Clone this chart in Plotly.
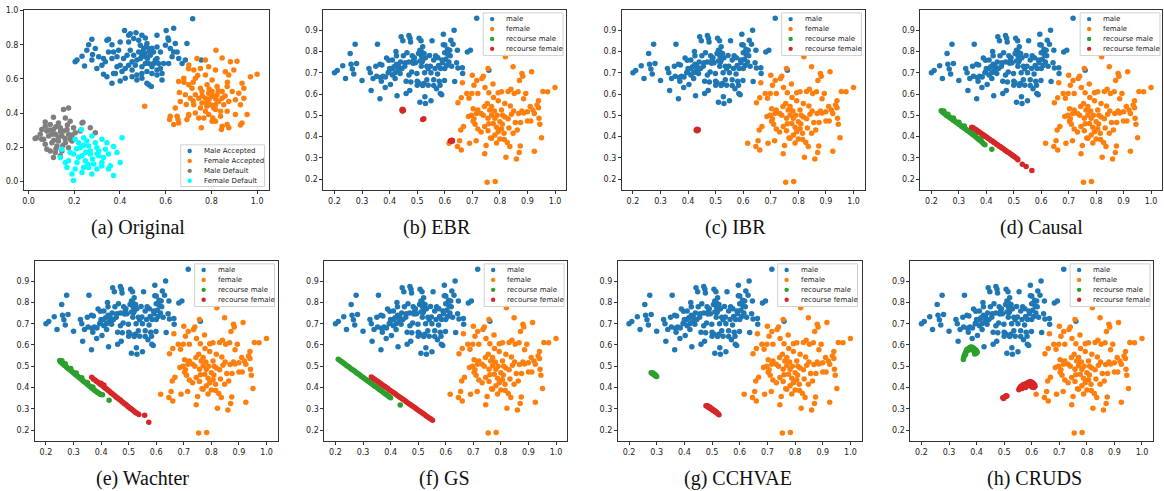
import plotly.graph_objects as go

# ---------------- DATA ----------------
# Panel (a): training data
train_male_accepted = [
    (0.718,0.952),(0.635,0.897),(0.602,0.884),(0.562,0.855),(0.61,0.84),(0.42,0.884),(0.445,0.865),
    (0.47,0.87),(0.496,0.855),(0.511,0.84),(0.482,0.826),(0.46,0.836),(0.438,0.816),(0.401,0.816),
    (0.365,0.80),(0.343,0.826),(0.35,0.832),(0.277,0.832),(0.263,0.80),(0.255,0.768),(0.28,0.743),
    (0.234,0.733),(0.212,0.71),(0.204,0.70),(0.245,0.675),(0.277,0.71),(0.299,0.661),(0.328,0.72),
    (0.336,0.70),(0.328,0.627),(0.343,0.613),(0.365,0.574),(0.372,0.632),(0.387,0.671),(0.401,0.588),
    (0.423,0.603),(0.401,0.68),(0.416,0.72),(0.431,0.739),(0.445,0.768),(0.46,0.739),(0.474,0.71),
    (0.453,0.652),(0.474,0.623),(0.496,0.632),(0.511,0.69),(0.526,0.778),(0.518,0.807),(0.533,0.739),
    (0.547,0.758),(0.555,0.71),(0.54,0.671),(0.562,0.652),(0.584,0.632),(0.584,0.594),(0.577,0.661),
    (0.591,0.69),(0.613,0.69),(0.628,0.729),(0.65,0.758),(0.657,0.72),(0.672,0.69),(0.686,0.71),
    (0.693,0.807),(0.642,0.807),(0.62,0.778),(0.599,0.797),(0.577,0.758),(0.562,0.787),(0.526,0.565),
    (0.537,0.555),(0.518,0.574),(0.365,0.72),(0.387,0.729),(0.394,0.768),(0.35,0.758),(0.372,0.758),
    (0.482,0.758),(0.496,0.739),(0.504,0.778),(0.489,0.797),(0.511,0.729),(0.526,0.69),(0.547,0.69),
    (0.562,0.72),(0.569,0.69),(0.438,0.68),(0.423,0.661),(0.409,0.643),(0.453,0.70),(0.467,0.68),
    (0.496,0.671),(0.518,0.643),(0.54,0.632),(0.562,0.623),(0.38,0.632),(0.321,0.68),(0.307,0.729),
    (0.292,0.778),(0.438,0.855),(0.613,0.826),(0.635,0.758),(0.496,0.603),(0.474,0.594),(0.453,0.613),
    (0.50,0.76),(0.51,0.75),(0.52,0.72),(0.53,0.76),(0.49,0.72),(0.54,0.78),(0.515,0.79),(0.756,0.71),
]
train_female_accepted = [
    (0.82,0.768),(0.737,0.72),(0.774,0.71),(0.847,0.723),(0.883,0.70),(0.912,0.704),(0.701,0.681),
    (0.723,0.652),(0.752,0.661),(0.788,0.671),(0.818,0.652),(0.861,0.642),(0.898,0.652),(0.876,0.623),
    (0.971,0.613),(1.0,0.627),(0.934,0.574),(0.942,0.545),(0.92,0.516),(0.942,0.487),(0.927,0.449),
    (0.956,0.391),(0.657,0.584),(0.679,0.603),(0.701,0.565),(0.686,0.507),(0.664,0.468),(0.642,0.429),
    (0.62,0.381),(0.65,0.381),(0.657,0.342),(0.635,0.333),(0.701,0.391),(0.693,0.362),(0.723,0.449),
    (0.745,0.487),(0.759,0.526),(0.781,0.565),(0.803,0.594),(0.825,0.555),(0.847,0.526),(0.869,0.555),
    (0.891,0.526),(0.905,0.478),(0.876,0.468),(0.854,0.449),(0.832,0.468),(0.81,0.497),(0.788,0.516),
    (0.774,0.487),(0.796,0.449),(0.818,0.42),(0.774,0.41),(0.752,0.429),(0.73,0.40),(0.745,0.371),
    (0.767,0.371),(0.788,0.391),(0.803,0.352),(0.84,0.381),(0.869,0.41),(0.905,0.391),(0.869,0.333),
    (0.847,0.323),(0.934,0.342),(0.73,0.507),(0.752,0.545),(0.73,0.603),(0.774,0.623),(0.803,0.526),
    (0.825,0.507),(0.847,0.487),(0.818,0.449),(0.781,0.459),(0.759,0.459),(0.715,0.545),(0.708,0.487),
    (0.508,0.439),(0.818,0.352),(0.844,0.304),(0.876,0.313),(0.927,0.329),(0.756,0.313),(0.806,0.371),
    (0.70,0.385),(0.654,0.362),(0.617,0.362),(0.79,0.48),(0.80,0.50),(0.82,0.48),(0.78,0.44),
    (0.81,0.43),(0.76,0.50),(0.83,0.53),(0.86,0.50),(0.79,0.54),(0.84,0.41),(0.72,0.47),
    (0.70,0.66),(0.68,0.58),(0.74,0.62),(0.72,0.58),(0.66,0.52),(0.69,0.45),(0.87,0.58),
]
train_male_default = [
    (0.175,0.429),(0.153,0.42),(0.109,0.375),(0.073,0.348),(0.095,0.333),(0.131,0.342),(0.161,0.371),
    (0.182,0.352),(0.234,0.342),(0.058,0.304),(0.080,0.294),(0.109,0.304),(0.139,0.313),(0.168,0.304),
    (0.197,0.313),(0.036,0.255),(0.058,0.246),(0.088,0.265),(0.117,0.275),(0.146,0.265),(0.175,0.275),
    (0.204,0.284),(0.226,0.294),(0.073,0.217),(0.102,0.226),(0.131,0.236),(0.161,0.226),(0.19,0.236),
    (0.095,0.178),(0.117,0.168),(0.146,0.178),(0.109,0.139),(0.139,0.149),(0.175,0.197),(0.08,0.188),
    (0.051,0.275),(0.124,0.207),(0.153,0.294),(0.102,0.275),(0.182,0.246),(0.073,0.323),(0.066,0.246),
    (0.238,0.346),(0.27,0.313),(0.292,0.284),(0.029,0.25),(0.12,0.32),(0.14,0.29),(0.16,0.25),
    (0.13,0.26),(0.11,0.24),(0.15,0.21),(0.19,0.27),(0.12,0.19),(0.09,0.30),(0.17,0.33),
]
train_female_default = [
    (0.231,0.304),(0.146,0.188),(0.139,0.139),(0.204,0.246),(0.241,0.255),(0.277,0.265),(0.321,0.246),
    (0.343,0.226),(0.409,0.255),(0.226,0.197),(0.263,0.207),(0.299,0.197),(0.336,0.188),(0.197,0.159),
    (0.234,0.149),(0.270,0.159),(0.307,0.149),(0.35,0.159),(0.175,0.12),(0.212,0.110),(0.248,0.12),
    (0.285,0.101),(0.321,0.110),(0.168,0.081),(0.204,0.072),(0.234,0.052),(0.277,0.043),(0.19,0.043),
    (0.197,0.004),(0.372,0.033),(0.401,0.110),(0.358,0.091),(0.255,0.236),(0.292,0.226),(0.219,0.226),
    (0.328,0.139),(0.387,0.168),(0.27,0.178),(0.307,0.178),(0.263,0.081),(0.299,0.072),(0.161,0.110),
    (0.182,0.168),(0.241,0.081),(0.35,0.072),(0.372,0.203),(0.25,0.17),(0.28,0.13),(0.22,0.14),
    (0.26,0.10),(0.30,0.16),(0.24,0.21),(0.21,0.19),(0.32,0.09),
]

# Panels (b)-(h): test data
test_male = [
    (0.20,0.70),(0.21,0.71),(0.23,0.733),(0.24,0.673),(0.257,0.79),(0.26,0.74),(0.265,0.718),
    (0.275,0.834),(0.28,0.743),(0.27,0.694),(0.30,0.664),(0.356,0.834),(0.325,0.72),(0.33,0.70),
    (0.34,0.673),(0.333,0.617),(0.365,0.578),(0.353,0.684),(0.367,0.678),(0.376,0.684),(0.372,0.736),
    (0.384,0.631),(0.389,0.769),(0.397,0.759),(0.398,0.705),(0.403,0.645),(0.41,0.72),(0.416,0.728),
    (0.42,0.673),(0.423,0.80),(0.425,0.78),(0.427,0.592),(0.432,0.731),(0.438,0.697),(0.442,0.869),
    (0.448,0.85),(0.457,0.747),(0.46,0.603),(0.463,0.794),(0.47,0.875),(0.473,0.617),(0.474,0.862),
    (0.476,0.844),(0.477,0.657),(0.48,0.703),(0.482,0.78),(0.487,0.759),(0.494,0.747),(0.499,0.697),
    (0.50,0.641),(0.505,0.653),(0.507,0.862),(0.51,0.806),(0.51,0.561),(0.514,0.85),(0.516,0.778),
    (0.518,0.752),(0.52,0.822),(0.524,0.65),(0.527,0.70),(0.528,0.587),(0.53,0.556),(0.535,0.667),
    (0.54,0.719),(0.54,0.641),(0.545,0.781),(0.548,0.731),(0.55,0.568),(0.554,0.85),(0.56,0.667),
    (0.567,0.78),(0.57,0.625),(0.574,0.694),(0.578,0.734),(0.583,0.641),(0.584,0.603),(0.589,0.597),
    (0.592,0.747),(0.595,0.831),(0.595,0.881),(0.599,0.663),(0.60,0.794),(0.604,0.763),(0.607,0.734),
    (0.612,0.784),(0.618,0.806),(0.622,0.853),(0.63,0.834),(0.634,0.90),(0.636,0.659),(0.643,0.747),
    (0.648,0.722),(0.664,0.724),(0.665,0.697),(0.646,0.806),(0.682,0.797),(0.693,0.806),(0.716,0.956),
    (0.76,0.712),(0.505,0.79),(0.515,0.80),(0.525,0.79),(0.53,0.77),(0.52,0.76),(0.51,0.755),
    (0.49,0.77),(0.485,0.745),(0.47,0.75),(0.455,0.73),(0.445,0.72),(0.43,0.71),(0.42,0.70),
    (0.41,0.69),(0.395,0.70),(0.40,0.72),(0.385,0.68),(0.37,0.66),(0.35,0.73),(0.365,0.74),
    (0.56,0.76),(0.575,0.77),(0.59,0.76),(0.585,0.72),(0.60,0.72),(0.615,0.75),(0.625,0.73),
    (0.55,0.70),(0.565,0.72),(0.535,0.73),(0.515,0.73),(0.47,0.69),(0.46,0.66),(0.50,0.66),
    (0.52,0.64),(0.56,0.64),(0.58,0.66),(0.62,0.78),(0.61,0.81),(0.60,0.83),(0.45,0.78),
    (0.44,0.75),(0.425,0.74),(0.41,0.76),
]
test_female = [
    (0.82,0.775),(0.757,0.72),(0.848,0.728),(0.915,0.705),(0.883,0.684),(0.871,0.663),(0.88,0.697),
    (0.70,0.688),(0.716,0.663),(0.706,0.641),(0.735,0.673),(0.74,0.684),(0.72,0.603),(0.698,0.603),
    (0.664,0.653),(0.68,0.603),(0.66,0.583),(0.648,0.559),(0.688,0.58),(0.746,0.631),(0.775,0.647),
    (0.76,0.606),(0.794,0.606),(0.806,0.611),(0.83,0.612),(0.84,0.622),(0.852,0.603),(0.866,0.611),
    (0.894,0.603),(0.886,0.578),(0.956,0.612),(0.973,0.611),(1.00,0.631),(0.94,0.569),(0.935,0.548),
    (0.94,0.536),(0.92,0.525),(0.925,0.509),(0.942,0.486),(0.945,0.458),(0.951,0.395),(0.925,0.331),
    (0.90,0.473),(0.912,0.473),(0.88,0.52),(0.886,0.511),(0.868,0.508),(0.85,0.52),(0.838,0.544),
    (0.856,0.466),(0.875,0.466),(0.863,0.431),(0.848,0.416),(0.833,0.44),(0.815,0.416),(0.827,0.372),
    (0.836,0.353),(0.822,0.303),(0.874,0.356),(0.87,0.325),(0.86,0.295),(0.754,0.186),(0.783,0.189),
    (0.745,0.319),(0.75,0.358),(0.766,0.394),(0.714,0.381),(0.69,0.369),(0.654,0.381),(0.646,0.353),
    (0.66,0.337),(0.616,0.369),(0.658,0.431),(0.668,0.448),(0.697,0.50),(0.703,0.472),(0.71,0.458),
    (0.72,0.436),(0.732,0.422),(0.72,0.525),(0.732,0.509),(0.744,0.541),(0.754,0.556),(0.763,0.525),
    (0.77,0.502),(0.782,0.486),(0.776,0.462),(0.788,0.444),(0.794,0.423),(0.782,0.408),(0.77,0.392),
    (0.80,0.389),(0.809,0.459),(0.818,0.492),(0.806,0.525),(0.818,0.556),(0.794,0.569),(0.777,0.584),
    (0.83,0.484),(0.842,0.505),(0.703,0.531),(0.715,0.509),(0.706,0.484),(0.686,0.494),(0.757,0.486),
    (0.745,0.447),(0.757,0.428),(0.806,0.437),(0.77,0.541),(0.90,0.517),(0.91,0.541),(0.816,0.386),
    (0.788,0.37),(0.79,0.50),(0.80,0.47),(0.78,0.52),(0.81,0.50),(0.76,0.46),(0.74,0.50),
]

# recourse points per method
ebr_rec_male = [(0.448,0.522),(0.446,0.520)]
ebr_rec_female = [(0.445,0.525),(0.448,0.522),(0.447,0.528),(0.450,0.524),(0.520,0.480),(0.524,0.484),
                  (0.623,0.380),(0.627,0.378),(0.625,0.383),(0.620,0.379),(0.628,0.382)]
ibr_rec_male = [(0.433,0.428)]
ibr_rec_female = [(0.430,0.432),(0.435,0.430),(0.433,0.434),(0.437,0.432),(0.430,0.429)]
causal_rec_male = [
    (0.236,0.522),(0.24,0.516),(0.243,0.515),(0.247,0.508),(0.25,0.507),(0.254,0.500),(0.258,0.499),
    (0.262,0.493),(0.266,0.492),(0.27,0.486),(0.275,0.483),(0.28,0.476),(0.285,0.474),(0.29,0.467),
    (0.295,0.464),(0.30,0.458),(0.305,0.455),(0.31,0.448),(0.315,0.445),(0.32,0.439),(0.325,0.436),
    (0.33,0.429),(0.335,0.426),(0.34,0.420),(0.345,0.416),(0.35,0.410),(0.355,0.406),(0.36,0.400),
    (0.365,0.395),(0.37,0.390),(0.375,0.384),(0.38,0.379),(0.385,0.373),(0.39,0.367),(0.395,0.362),
    (0.42,0.341),(0.245,0.520),(0.26,0.505),(0.28,0.487),(0.30,0.468),(0.32,0.450),(0.34,0.430),
    (0.36,0.410),(0.38,0.390),
]
causal_rec_female = [
    (0.347,0.444),(0.352,0.442),(0.357,0.436),(0.362,0.433),(0.367,0.427),(0.372,0.424),(0.377,0.418),
    (0.382,0.415),(0.387,0.409),(0.392,0.406),(0.397,0.400),(0.402,0.397),(0.407,0.391),(0.412,0.388),
    (0.417,0.382),(0.422,0.379),(0.427,0.373),(0.432,0.370),(0.437,0.364),(0.442,0.361),(0.447,0.355),
    (0.452,0.352),(0.457,0.346),(0.462,0.343),(0.467,0.337),(0.472,0.334),(0.477,0.328),(0.482,0.325),
    (0.487,0.319),(0.492,0.316),(0.497,0.310),(0.502,0.307),(0.507,0.301),(0.512,0.297),(0.515,0.291),
    (0.531,0.270),(0.545,0.260),(0.566,0.241),
]
wachter_rec_male = [
    (0.25,0.527),(0.253,0.520),(0.257,0.518),(0.26,0.512),(0.264,0.509),(0.268,0.503),(0.272,0.500),
    (0.276,0.494),(0.28,0.490),(0.285,0.485),(0.29,0.480),(0.295,0.474),(0.30,0.469),(0.305,0.463),
    (0.31,0.458),(0.315,0.453),(0.32,0.447),(0.325,0.442),(0.33,0.437),(0.335,0.431),(0.34,0.426),
    (0.345,0.421),(0.35,0.415),(0.355,0.410),(0.36,0.405),(0.365,0.399),(0.37,0.394),(0.375,0.389),
    (0.38,0.384),(0.385,0.379),(0.39,0.374),(0.395,0.370),(0.40,0.367),(0.405,0.366),(0.429,0.340),
    (0.258,0.526),(0.27,0.512),(0.29,0.490),(0.31,0.468),(0.33,0.446),(0.35,0.424),(0.37,0.402),
]
wachter_rec_female = [
    (0.366,0.448),(0.372,0.440),(0.378,0.436),(0.384,0.428),(0.39,0.424),(0.396,0.417),(0.40,0.414),
    (0.405,0.408),(0.41,0.404),(0.415,0.397),(0.42,0.393),(0.425,0.387),(0.43,0.383),(0.435,0.376),
    (0.44,0.372),(0.445,0.366),(0.45,0.362),(0.455,0.355),(0.46,0.351),(0.465,0.345),(0.47,0.341),
    (0.475,0.334),(0.48,0.330),(0.485,0.324),(0.49,0.320),(0.495,0.313),(0.50,0.309),(0.505,0.303),
    (0.51,0.299),(0.515,0.293),(0.52,0.289),(0.525,0.283),(0.53,0.279),(0.537,0.273),(0.558,0.270),
    (0.573,0.237),(0.40,0.420),(0.41,0.412),
]
gs_rec_male = [
    (0.21,0.533),(0.215,0.528),(0.22,0.523),(0.225,0.519),(0.23,0.514),(0.235,0.509),(0.24,0.504),
    (0.245,0.500),(0.25,0.495),(0.255,0.490),(0.26,0.485),(0.265,0.481),(0.27,0.476),(0.275,0.471),
    (0.28,0.466),(0.285,0.462),(0.29,0.457),(0.295,0.452),(0.30,0.447),(0.305,0.443),(0.31,0.438),
    (0.315,0.433),(0.32,0.428),(0.325,0.424),(0.33,0.419),(0.335,0.414),(0.34,0.409),(0.345,0.405),
    (0.35,0.400),(0.355,0.395),(0.36,0.390),(0.365,0.386),(0.37,0.381),(0.375,0.376),(0.38,0.371),
    (0.385,0.367),(0.39,0.362),(0.395,0.357),(0.40,0.352),(0.435,0.318),
]
gs_rec_female = [
    (0.33,0.450),(0.336,0.444),(0.342,0.439),(0.348,0.433),(0.354,0.428),(0.36,0.422),(0.366,0.417),
    (0.372,0.411),(0.378,0.406),(0.384,0.400),(0.39,0.395),(0.396,0.389),(0.402,0.384),(0.408,0.378),
    (0.414,0.373),(0.42,0.367),(0.426,0.362),(0.432,0.356),(0.438,0.351),(0.444,0.345),(0.45,0.340),
    (0.456,0.334),(0.462,0.329),(0.468,0.323),(0.474,0.318),(0.48,0.312),(0.486,0.307),(0.492,0.301),
    (0.498,0.296),(0.504,0.290),(0.51,0.285),(0.516,0.279),(0.522,0.274),(0.528,0.268),(0.534,0.263),
    (0.54,0.257),(0.546,0.252),(0.552,0.246),
]
cchvae_rec_male = [(0.282,0.468),(0.285,0.466),(0.288,0.463),(0.29,0.461),(0.293,0.458),(0.296,0.456),
                   (0.298,0.453),(0.30,0.452),(0.287,0.468),(0.295,0.46),(0.28,0.47)]
cchvae_rec_female = [(0.478,0.315),(0.482,0.312),(0.486,0.308),(0.49,0.305),(0.494,0.301),(0.498,0.298),
                     (0.502,0.294),(0.506,0.291),(0.51,0.287),(0.514,0.284),(0.518,0.28),(0.522,0.276),
                     (0.525,0.272),(0.484,0.315),(0.492,0.309),(0.50,0.30),(0.508,0.293),(0.516,0.285)]
cruds_rec_male = [(0.352,0.532),(0.353,0.54),(0.355,0.548),(0.357,0.555),(0.36,0.563),(0.362,0.57),
                  (0.365,0.576),(0.368,0.581),(0.372,0.585),(0.376,0.588),(0.38,0.59),(0.384,0.589),
                  (0.388,0.586),(0.392,0.582),(0.396,0.577),(0.40,0.572),(0.402,0.566),(0.398,0.56),
                  (0.393,0.558),(0.386,0.575),(0.37,0.575),(0.36,0.555)]
cruds_rec_female = [(0.495,0.352),(0.50,0.355),(0.505,0.358),(0.51,0.36),(0.498,0.348),(0.507,0.362),
                    (0.553,0.39),(0.556,0.398),(0.56,0.405),(0.565,0.41),(0.57,0.414),(0.575,0.416),
                    (0.58,0.418),(0.585,0.422),(0.59,0.426),(0.595,0.428),(0.60,0.425),(0.605,0.42),
                    (0.61,0.414),(0.612,0.406),(0.608,0.40),(0.60,0.402),(0.59,0.41),(0.578,0.40),
                    (0.565,0.395),(0.57,0.405)]

captions = ["(a) Original", "(b) EBR", "(c) IBR", "(d) Causal",
            "(e) Wachter", "(f) GS", "(g) CCHVAE", "(h) CRUDS"]
legend_a = ["Male Accepted", "Female Accepted", "Male Default", "Female Default"]
legend_rec = ["male", "female", "recourse male", "recourse female"]
x_ticks_a = [0.0, 0.2, 0.4, 0.6, 0.8, 1.0]
y_ticks_a = [0.0, 0.2, 0.4, 0.6, 0.8, 1.0]
x_ticks = [0.2, 0.3, 0.4, 0.5, 0.6, 0.7, 0.8, 0.9, 1.0]
y_ticks = [0.2, 0.3, 0.4, 0.5, 0.6, 0.7, 0.8, 0.9]

recourse = [
    (ebr_rec_male, ebr_rec_female), (ibr_rec_male, ibr_rec_female),
    (causal_rec_male, causal_rec_female), (wachter_rec_male, wachter_rec_female),
    (gs_rec_male, gs_rec_female), (cchvae_rec_male, cchvae_rec_female),
    (cruds_rec_male, cruds_rec_female),
]

# ---------------- LAYOUT ----------------
W, H = 1164, 491
BLUE, ORANGE, GREEN, RED = "#1f77b4", "#ff7f0e", "#2ca02c", "#d62728"
GREY, CYAN = "#7f7f7f", "#00ffff"

# plot-area boxes in pixels: (left, right, top, bottom)
boxes = [(22, 267, 6, 188), (322, 565, 6, 188), (621, 864, 6, 188), (920, 1162, 6, 188),
         (33, 276, 259, 441), (323, 566, 259, 441), (617, 861, 259, 441), (910, 1153, 259, 441)]
caption_pos = [(136, 225), (436, 225), (735, 225), (1041, 225),
               (141, 478), (443, 478), (737, 478), (1034, 478)]
# legend boxes in pixels: (left, top, width, height)
legend_box = [(179, 142, 84, 42), (482, 9, 80, 43), (781, 9, 80, 43), (1080, 9, 80, 43),
              (193, 262, 80, 43), (483, 262, 80, 43), (777, 262, 80, 43), (1070, 262, 80, 43)]


def px(x):
    return x / W


def py(y):
    return 1 - y / H


def xs(pts):
    return [p[0] for p in pts]


def ys(pts):
    return [p[1] for p in pts]


fig = go.Figure()
layout = dict(width=W, height=H, margin=dict(l=0, r=0, t=0, b=0),
              paper_bgcolor="white", plot_bgcolor="white", showlegend=False,
              font=dict(family="DejaVu Sans", color="#222"))
shapes, annotations = [], []

MS = 5.5
for i in range(8):
    ax = "" if i == 0 else str(i + 1)
    if i == 0:
        series = [(train_male_accepted, BLUE), (train_female_accepted, ORANGE),
                  (train_male_default, GREY), (train_female_default, CYAN)]
        names = legend_a
    else:
        rm, rf = recourse[i - 1]
        series = [(test_male, BLUE), (test_female, ORANGE), (rm, GREEN), (rf, RED)]
        names = legend_rec
    for (pts, col), nm in zip(series, names):
        fig.add_trace(go.Scatter(
            x=xs(pts), y=ys(pts), mode="markers", name=nm,
            marker=dict(color=col, size=MS, line=dict(width=0)),
            xaxis="x" + ax, yaxis="y" + ax, hoverinfo="skip"))

    l, r, t, b = boxes[i]
    if i == 0:
        xr, yr, xt, yt = [-0.02, 1.05], [-0.054, 1.004], x_ticks_a, y_ticks_a
    else:
        xr, yr, xt, yt = [0.16, 1.04], [0.147, 0.995], x_ticks, y_ticks
    common = dict(showgrid=False, zeroline=False, showline=True, mirror=True,
                  linecolor="#333", linewidth=1, ticks="outside", ticklen=3,
                  tickwidth=0.8, tickcolor="#333", tickfont=dict(size=8, color="#222"),
                  tickformat=".1f", fixedrange=True)
    layout["xaxis" + ax] = dict(common, domain=[px(l), px(r)], range=xr,
                                tickvals=xt, anchor="y" + ax)
    layout["yaxis" + ax] = dict(common, domain=[py(b), py(t)], range=yr,
                                tickvals=yt, anchor="x" + ax)

    # legend drawn by hand (matplotlib-like compact box)
    lx, ly, lw, lh = legend_box[i]
    shapes.append(dict(type="rect", xref="paper", yref="paper",
                       x0=px(lx), x1=px(lx + lw), y0=py(ly + lh), y1=py(ly),
                       fillcolor="rgba(255,255,255,0.8)",
                       line=dict(color="#d0d0d0", width=1), layer="above"))
    for k, ((_, col), nm) in enumerate(zip(series, names)):
        cy = ly + 6.2 + 10.0 * k
        cx = lx + 9
        rr = 2.2
        shapes.append(dict(type="circle", xref="paper", yref="paper",
                           x0=px(cx - rr), x1=px(cx + rr), y0=py(cy + rr), y1=py(cy - rr),
                           fillcolor=col, line=dict(width=0), layer="above"))
        annotations.append(dict(text=nm, x=px(lx + 21), y=py(cy), xref="paper", yref="paper",
                                showarrow=False, xanchor="left", yanchor="middle",
                                font=dict(family="DejaVu Sans", size=7, color="#222")))

for cap, (cx, cy) in zip(captions, caption_pos):
    annotations.append(dict(text=cap, x=px(cx), y=py(cy), xref="paper", yref="paper",
                            showarrow=False, xanchor="center", yanchor="middle",
                            font=dict(family="Liberation Serif", size=20, color="#111")))
layout["shapes"] = shapes
layout["annotations"] = annotations
fig.update_layout(**layout)
fig.write_html("out.html", config={"displayModeBar": False},
               post_script="document.body.style.margin='0px';")
